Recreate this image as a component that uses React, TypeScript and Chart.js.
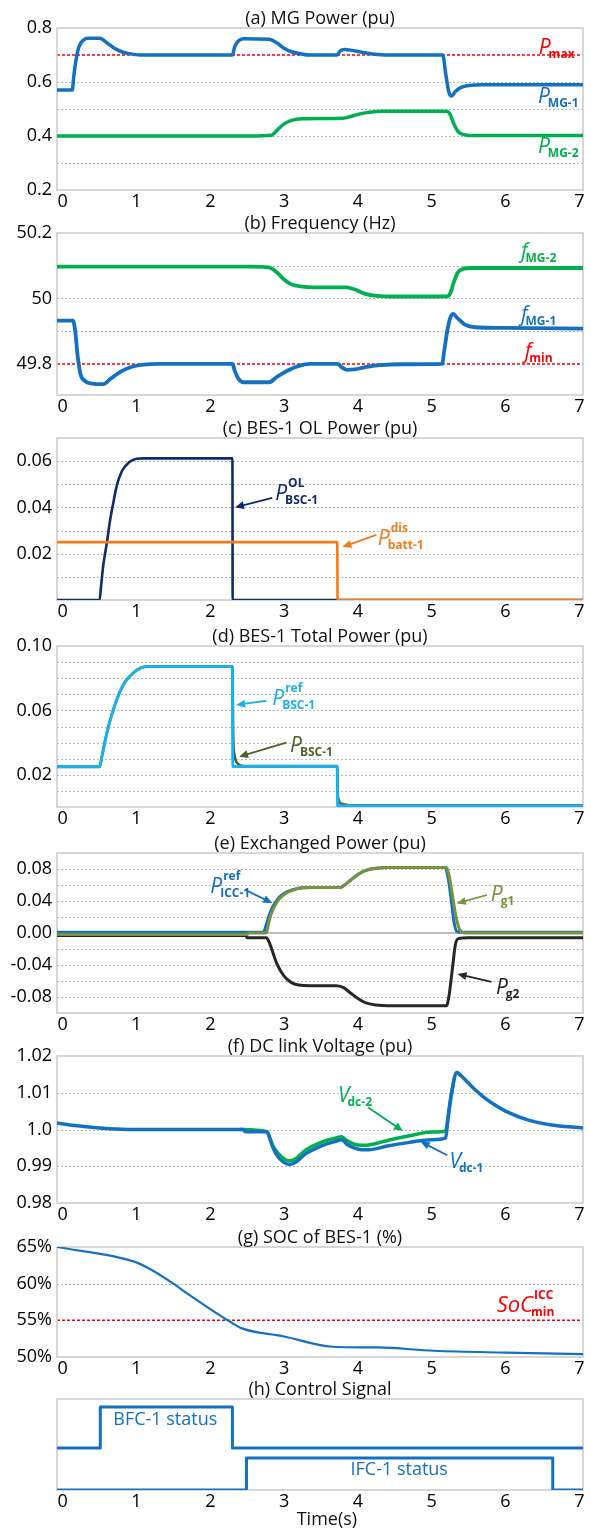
import React, { useEffect, useRef } from 'react';
import { Chart, registerables } from 'chart.js';

Chart.register(...registerables);

const FONT = '"Open Sans", "DejaVu Sans", sans-serif';

const BLUE = '#1471c2';
const GREEN = '#00b050';
const RED = '#ff0000';
const NAVY = '#0f2b6b';
const ORANGE = '#f07d1a';
const CYAN = '#1db1ec';
const DARK_OLIVE = '#4f6228';
const OLIVE = '#77933c';
const BLACK = '#262626';

const T_MIN = -0.077;
const T_MAX = 7.05;
const timeTicks = [0, 1, 2, 3, 4, 5, 6, 7];

// (a) MG power
const tA1 = [-0.077, 0.13, 0.15, 0.18, 0.22, 0.28, 0.35, 0.5, 0.6, 0.7, 0.8, 0.9, 1.05, 2.3, 2.33, 2.38, 2.45, 2.8, 2.9, 3.0, 3.1, 3.25, 3.35, 3.72, 3.76, 3.82, 3.9, 4.05, 4.2, 4.4, 5.15, 5.19, 5.23, 5.27, 5.32, 5.4, 5.5, 5.7, 7.05];
const pMG1 = [0.57, 0.57, 0.62, 0.68, 0.73, 0.755, 0.762, 0.762, 0.745, 0.725, 0.712, 0.705, 0.70, 0.70, 0.73, 0.752, 0.76, 0.758, 0.745, 0.725, 0.712, 0.703, 0.70, 0.70, 0.715, 0.72, 0.718, 0.71, 0.704, 0.70, 0.70, 0.63, 0.565, 0.548, 0.565, 0.58, 0.587, 0.59, 0.59];
const tA2 = [-0.077, 2.55, 2.83, 2.9, 3.0, 3.1, 3.25, 3.8, 3.9, 4.0, 4.15, 4.35, 5.2, 5.25, 5.3, 5.36, 5.45, 5.6, 7.05];
const pMG2 = [0.40, 0.40, 0.403, 0.42, 0.445, 0.458, 0.464, 0.466, 0.472, 0.48, 0.488, 0.492, 0.492, 0.48, 0.445, 0.415, 0.404, 0.402, 0.402];
const aTicks = [0.2, 0.4, 0.6, 0.8];
const aTickLabels = ['0.2', '0.4', '0.6', '0.8'];
const aGrid = [0.3, 0.4, 0.5, 0.6];
const aPmax = [0.7];

// (b) Frequency
const tB1 = [-0.077, 0.14, 0.17, 0.2, 0.24, 0.3, 0.4, 0.55, 0.65, 0.8, 0.95, 1.1, 1.3, 2.3, 2.33, 2.38, 2.45, 2.8, 2.9, 3.05, 3.2, 3.35, 3.73, 3.78, 3.85, 3.95, 4.1, 4.3, 4.6, 5.14, 5.17, 5.21, 5.25, 5.29, 5.35, 5.45, 5.6, 6.0, 7.05];
const fMG1 = [49.932, 49.932, 49.9, 49.83, 49.77, 49.748, 49.74, 49.738, 49.755, 49.778, 49.792, 49.798, 49.8, 49.8, 49.78, 49.755, 49.744, 49.744, 49.76, 49.78, 49.794, 49.8, 49.8, 49.79, 49.782, 49.783, 49.79, 49.796, 49.799, 49.8, 49.84, 49.9, 49.94, 49.953, 49.94, 49.92, 49.912, 49.91, 49.908];
const tB2 = [-0.077, 2.55, 2.8, 2.9, 3.0, 3.1, 3.25, 3.4, 3.85, 3.95, 4.1, 4.25, 4.5, 5.2, 5.25, 5.3, 5.35, 5.42, 5.55, 7.05];
const fMG2 = [50.097, 50.097, 50.094, 50.08, 50.058, 50.043, 50.036, 50.034, 50.034, 50.028, 50.014, 50.008, 50.006, 50.006, 50.015, 50.05, 50.078, 50.09, 50.093, 50.093];
const bTicks = [49.8, 50, 50.2];
const bTickLabels = ['49.8', '50', '50.2'];
const bGrid = [49.9, 50, 50.1];
const bFmin = [49.8];

// (c) BES-1 OL power
const tC1 = [-0.077, 0.5, 0.52, 0.55, 0.6, 0.64, 0.68, 0.73, 0.8, 0.9, 1.0, 1.1, 2.3, 2.303, 7.05];
const pBscOL = [0, 0, 0.006, 0.015, 0.025, 0.034, 0.041, 0.049, 0.0555, 0.0595, 0.061, 0.0612, 0.0612, 0, 0];
const tC2 = [-0.077, 3.72, 3.725, 7.05];
const pBattDis = [0.025, 0.025, 0, 0];
const cTicks = [0.02, 0.04, 0.06];
const cTickLabels = ['0.02', '0.04', '0.06'];
const cGrid = [0.01, 0.02, 0.03, 0.04, 0.05, 0.06];

// (d) BES-1 total power
const tD1 = [-0.077, 0.5, 0.53, 0.57, 0.62, 0.67, 0.72, 0.78, 0.85, 0.95, 1.05, 1.15, 2.3, 2.305, 3.72, 3.725, 7.05];
const pBscRef = [0.0252, 0.0252, 0.031, 0.04, 0.05, 0.058, 0.065, 0.072, 0.078, 0.083, 0.0862, 0.0872, 0.0872, 0.0252, 0.0252, 0.0008, 0.0008];
const tD2 = [-0.077, 0.5, 0.53, 0.57, 0.62, 0.67, 0.72, 0.78, 0.85, 0.95, 1.05, 1.15, 2.3, 2.31, 2.33, 2.37, 2.45, 3.72, 3.73, 3.78, 3.9, 7.05];
const pBsc = [0.0248, 0.0248, 0.031, 0.04, 0.05, 0.058, 0.065, 0.072, 0.078, 0.083, 0.0862, 0.0872, 0.0872, 0.045, 0.032, 0.027, 0.0255, 0.0255, 0.006, 0.002, 0.001, 0.001];
const dTicks = [0.02, 0.06, 0.1];
const dTickLabels = ['0.02', '0.06', '0.10'];
const dGrid = [0.01, 0.02, 0.03, 0.04, 0.05, 0.06, 0.07, 0.08, 0.09];

// (e) Exchanged power
const tE1 = [-0.077, 2.72, 2.75, 2.79, 2.83, 2.88, 2.95, 3.05, 3.2, 3.35, 3.76, 3.82, 3.9, 4.0, 4.1, 4.25, 4.4, 5.18, 5.22, 5.26, 5.3, 5.34, 5.4, 7.05];
const pIccRef = [0.001, 0.001, 0.008, 0.02, 0.03, 0.038, 0.046, 0.052, 0.056, 0.057, 0.057, 0.06, 0.066, 0.073, 0.078, 0.081, 0.082, 0.082, 0.07, 0.045, 0.015, 0.002, 0.001, 0.001];
const tE2 = [-0.077, 2.5, 2.52, 2.76, 2.79, 2.83, 2.88, 2.95, 3.05, 3.2, 3.35, 3.76, 3.82, 3.9, 4.0, 4.1, 4.25, 4.4, 5.2, 5.24, 5.28, 5.33, 5.38, 5.45, 7.05];
const pG1 = [-0.002, -0.002, 0, 0, 0.012, 0.025, 0.035, 0.044, 0.051, 0.056, 0.057, 0.057, 0.06, 0.066, 0.073, 0.078, 0.081, 0.082, 0.082, 0.07, 0.048, 0.02, 0.004, 0, 0];
const tE3 = [-0.077, 2.48, 2.5, 2.76, 2.8, 2.85, 2.9, 3.0, 3.1, 3.2, 3.35, 3.7, 3.8, 3.9, 4.0, 4.1, 4.25, 4.4, 5.2, 5.24, 5.28, 5.32, 5.36, 5.5, 7.05];
const pG2 = [-0.003, -0.003, -0.006, -0.006, -0.012, -0.025, -0.038, -0.054, -0.062, -0.065, -0.066, -0.066, -0.068, -0.075, -0.082, -0.087, -0.09, -0.091, -0.091, -0.075, -0.045, -0.015, -0.007, -0.006, -0.006];
const eTicks = [-0.08, -0.04, 0, 0.04, 0.08];
const eTickLabels = ['-0.08', '-0.04', '0.00', '0.04', '0.08'];
const eGrid = [-0.08, -0.06, -0.04, -0.02, 0.02, 0.04, 0.06, 0.08];

// (f) DC link voltage
const tF1 = [-0.077, 0.2, 0.5, 0.8, 1.2, 2.45, 2.47, 2.77, 2.8, 2.85, 2.92, 3.0, 3.07, 3.15, 3.3, 3.5, 3.7, 3.78, 3.85, 3.95, 4.05, 4.15, 4.4, 4.7, 5.0, 5.19, 5.22, 5.27, 5.34, 5.4, 5.5, 5.6, 5.7, 5.8, 6.0, 6.3, 6.6, 7.05];
const vDc1 = [1.0018, 1.001, 1.0004, 1.0001, 1.0, 1.0, 0.9994, 0.9994, 0.998, 0.995, 0.9925, 0.991, 0.9905, 0.991, 0.9935, 0.9955, 0.9968, 0.9972, 0.996, 0.995, 0.9945, 0.9945, 0.9955, 0.9965, 0.9972, 0.9977, 1.003, 1.01, 1.0155, 1.0146, 1.0126, 1.0106, 1.0089, 1.0074, 1.005, 1.0026, 1.0013, 1.0004];
const tF2 = [2.4, 2.77, 2.8, 2.85, 2.92, 3.0, 3.07, 3.15, 3.3, 3.5, 3.7, 3.78, 3.85, 3.95, 4.05, 4.15, 4.4, 4.7, 5.0, 5.19, 5.22, 5.27, 5.34, 5.4];
const vDc2 = [1.0, 0.9994, 0.998, 0.9955, 0.9935, 0.992, 0.9915, 0.992, 0.9945, 0.9965, 0.9977, 0.998, 0.997, 0.996, 0.9957, 0.9958, 0.997, 0.9983, 0.9993, 0.9996, 1.003, 1.01, 1.0155, 1.0146];
const fTicks = [0.98, 0.99, 1.0, 1.01, 1.02];
const fTickLabels = ['0.98', '0.99', '1.0', '1.01', '1.02'];
const fGrid = [0.99, 1.0, 1.01];

// (g) SOC
const tG = [-0.077, 0.97, 1.2, 1.5, 1.71, 2.02, 2.27, 2.43, 3.0, 3.65, 4.27, 5.03, 6.0, 7.05];
const soc = [65.0, 63.0, 61.9, 60.0, 58.5, 56.4, 54.8, 53.9, 52.8, 51.4, 51.3, 50.85, 50.6, 50.4];
const gTicks = [50, 55, 60, 65];
const gTickLabels = ['50%', '55%', '60%', '65%'];
const gGrid = [60];
const gSocMin = [55];

// (h) Control signal
const tH1 = [-0.077, 0.51, 0.51, 2.3, 2.3, 7.05];
const bfcStatus = [1.04, 1.04, 2.05, 2.05, 1.04, 1.04];
const tH2 = [-0.077, 2.49, 2.49, 6.64, 6.64, 7.05];
const ifcStatus = [0, 0, 0.79, 0.79, 0, 0];

type Series = { t: number[]; v: number[]; color: string; width: number; smooth: boolean };
type Sym = { t: number; v: number; main: string; sub?: string; sup?: string; color: string; size?: number };
type Arrow = { t1: number; v1: number; t2: number; v2: number; color: string };
type Txt = { t: number; v: number; text: string; color: string; size: number };
type Panel = {
  title: string; top: number; bottom: number; min: number; max: number;
  ticks: number[]; tickLabels: string[];
  grid: number[]; redLines: number[]; zeroLine?: boolean;
  series: Series[]; syms: Sym[]; arrows: Arrow[]; texts: Txt[];
  xTitle?: string;
};

// series are listed bottom-most first (drawing order)
const panels: Panel[] = [
  {
    title: '(a) MG Power (pu)', top: 28, bottom: 190, min: 0.2, max: 0.8,
    ticks: aTicks, tickLabels: aTickLabels, grid: aGrid, redLines: aPmax,
    series: [
      { t: tA1, v: pMG1, color: BLUE, width: 3.5, smooth: true },
      { t: tA2, v: pMG2, color: GREEN, width: 3.5, smooth: true },
    ],
    syms: [
      { t: 6.45, v: 0.704, main: 'P', sub: 'max', color: RED },
      { t: 6.44, v: 0.522, main: 'P', sub: 'MG-1', color: BLUE },
      { t: 6.44, v: 0.337, main: 'P', sub: 'MG-2', color: GREEN },
    ],
    arrows: [], texts: [],
  },
  {
    title: '(b) Frequency (Hz)', top: 233, bottom: 395, min: 49.705, max: 50.2,
    ticks: bTicks, tickLabels: bTickLabels, grid: bGrid, redLines: bFmin,
    series: [
      { t: tB2, v: fMG2, color: GREEN, width: 3.8, smooth: true },
      { t: tB1, v: fMG1, color: BLUE, width: 3.8, smooth: true },
    ],
    syms: [
      { t: 6.21, v: 50.124, main: 'f', sub: 'MG-2', color: GREEN },
      { t: 6.21, v: 49.93, main: 'f', sub: 'MG-1', color: BLUE },
      { t: 6.26, v: 49.818, main: 'f', sub: 'min', color: RED },
    ],
    arrows: [], texts: [],
  },
  {
    title: '(c) BES-1 OL Power (pu)', top: 438, bottom: 600, min: 0, max: 0.07,
    ticks: cTicks, tickLabels: cTickLabels, grid: cGrid, redLines: [],
    series: [
      { t: tC1, v: pBscOL, color: NAVY, width: 2.6, smooth: true },
      { t: tC2, v: pBattDis, color: ORANGE, width: 2.6, smooth: true },
    ],
    syms: [
      { t: 2.88, v: 0.0432, main: 'P', sub: 'BSC-1', sup: 'OL', color: NAVY },
      { t: 4.27, v: 0.0238, main: 'P', sub: 'batt-1', sup: 'dis', color: ORANGE },
    ],
    arrows: [
      { t1: 2.84, v1: 0.0441, t2: 2.335, v2: 0.040, color: NAVY },
      { t1: 4.25, v1: 0.0281, t2: 3.79, v2: 0.0229, color: ORANGE },
    ],
    texts: [],
  },
  {
    title: '(d) BES-1 Total Power (pu)', top: 646, bottom: 807, min: 0, max: 0.1,
    ticks: dTicks, tickLabels: dTickLabels, grid: dGrid, redLines: [],
    series: [
      { t: tD2, v: pBsc, color: DARK_OLIVE, width: 2.6, smooth: true },
      { t: tD1, v: pBscRef, color: CYAN, width: 3, smooth: true },
    ],
    syms: [
      { t: 2.84, v: 0.0634, main: 'P', sub: 'BSC-1', sup: 'ref', color: CYAN },
      { t: 3.08, v: 0.0344, main: 'P', sub: 'BSC-1', color: DARK_OLIVE },
    ],
    arrows: [
      { t1: 2.76, v1: 0.066, t2: 2.35, v2: 0.0634, color: CYAN },
      { t1: 3.03, v1: 0.040, t2: 2.39, v2: 0.0312, color: DARK_OLIVE },
    ],
    texts: [],
  },
  {
    title: '(e) Exchanged Power (pu)', top: 853, bottom: 1013, min: -0.1, max: 0.1,
    ticks: eTicks, tickLabels: eTickLabels, grid: eGrid, redLines: [], zeroLine: true,
    series: [
      { t: tE3, v: pG2, color: BLACK, width: 3, smooth: true },
      { t: tE1, v: pIccRef, color: BLUE, width: 3, smooth: true },
      { t: tE2, v: pG1, color: OLIVE, width: 3, smooth: true },
    ],
    syms: [
      { t: 2.0, v: 0.05, main: 'P', sub: 'ICC-1', sup: 'ref', color: BLUE },
      { t: 5.8, v: 0.0404, main: 'P', sub: 'g1', color: OLIVE },
      { t: 5.87, v: -0.0767, main: 'P', sub: 'g2', color: BLACK },
    ],
    arrows: [
      { t1: 2.47, v1: 0.054, t2: 2.84, v2: 0.0375, color: BLUE },
      { t1: 5.75, v1: 0.0475, t2: 5.34, v2: 0.037, color: OLIVE },
      { t1: 5.81, v1: -0.061, t2: 5.35, v2: -0.0513, color: BLACK },
    ],
    texts: [],
  },
  {
    title: '(f) DC link Voltage (pu)', top: 1056, bottom: 1203, min: 0.98, max: 1.02,
    ticks: fTicks, tickLabels: fTickLabels, grid: fGrid, redLines: [],
    series: [
      { t: tF2, v: vDc2, color: GREEN, width: 3.5, smooth: true },
      { t: tF1, v: vDc1, color: BLUE, width: 3.5, smooth: true },
    ],
    syms: [
      { t: 3.73, v: 1.0076, main: 'V', sub: 'dc-2', color: GREEN },
      { t: 5.24, v: 0.9894, main: 'V', sub: 'dc-1', color: BLUE },
    ],
    arrows: [
      { t1: 4.14, v1: 1.006, t2: 4.61, v2: 0.9996, color: GREEN },
      { t1: 5.21, v1: 0.993, t2: 4.85, v2: 0.9967, color: BLUE },
    ],
    texts: [],
  },
  {
    title: '(g) SOC of BES-1 (%)', top: 1247, bottom: 1357, min: 50, max: 65,
    ticks: gTicks, tickLabels: gTickLabels, grid: gGrid, redLines: gSocMin,
    series: [{ t: tG, v: soc, color: BLUE, width: 2.2, smooth: true }],
    syms: [{ t: 5.88, v: 56.1, main: 'SoC', sub: 'min', sup: 'ICC', color: RED, size: 22 }],
    arrows: [], texts: [],
  },
  {
    title: '(h) Control Signal', top: 1399, bottom: 1490, min: 0, max: 2.25,
    ticks: [], tickLabels: [], grid: [], redLines: [],
    series: [
      { t: tH1, v: bfcStatus, color: BLUE, width: 3, smooth: false },
      { t: tH2, v: ifcStatus, color: BLUE, width: 3, smooth: false },
    ],
    syms: [], arrows: [],
    texts: [
      { t: 1.39, v: 1.73, text: 'BFC-1 status', color: BLUE, size: 18 },
      { t: 4.56, v: 0.49, text: 'IFC-1 status', color: BLUE, size: 18 },
    ],
    xTitle: 'Time(s)',
  },
];

const PAD_TOP = 24;
const X_AXIS_H = 24;
const Y_AXIS_W = 57;
const PAD_RIGHT = 8;

function hline(ctx: CanvasRenderingContext2D, x1: number, x2: number, y: number) {
  ctx.beginPath();
  ctx.moveTo(x1, y);
  ctx.lineTo(x2, y);
  ctx.stroke();
}

function makeDeco(panel: Panel) {
  return {
    id: 'deco',
    beforeDatasetsDraw(chart: any) {
      const { ctx, chartArea: a, scales } = chart;
      const ys = scales.y;
      ctx.save();
      ctx.lineWidth = 1;
      ctx.strokeStyle = '#b8b8b8';
      ctx.setLineDash([2, 2]);
      for (const g of panel.grid) hline(ctx, a.left, a.right, Math.round(ys.getPixelForValue(g)) + 0.5);
      ctx.setLineDash([]);
      if (panel.zeroLine) {
        ctx.strokeStyle = '#a6a6a6';
        ctx.lineWidth = 1.5;
        hline(ctx, a.left, a.right, ys.getPixelForValue(0));
      }
      ctx.strokeStyle = RED;
      ctx.lineWidth = 1.5;
      ctx.setLineDash([3, 2]);
      for (const r of panel.redLines) hline(ctx, a.left, a.right, ys.getPixelForValue(r));
      ctx.setLineDash([]);
      ctx.strokeStyle = '#cacaca';
      ctx.lineWidth = 1.5;
      ctx.strokeRect(a.left, a.top, a.right - a.left, a.bottom - a.top);
      ctx.restore();
    },
    afterDatasetsDraw(chart: any) {
      const { ctx, chartArea: a, scales } = chart;
      const xs = scales.x;
      const ys = scales.y;
      ctx.save();
      // title
      ctx.fillStyle = '#111';
      ctx.font = `18px ${FONT}`;
      ctx.textAlign = 'center';
      ctx.textBaseline = 'middle';
      ctx.fillText(panel.title, (a.left + a.right) / 2, a.top - 9);
      // arrows
      for (const ar of panel.arrows) {
        const x1 = xs.getPixelForValue(ar.t1);
        const y1 = ys.getPixelForValue(ar.v1);
        const x2 = xs.getPixelForValue(ar.t2);
        const y2 = ys.getPixelForValue(ar.v2);
        const ang = Math.atan2(y2 - y1, x2 - x1);
        const hl = 9;
        const hw = 4;
        ctx.strokeStyle = ar.color;
        ctx.fillStyle = ar.color;
        ctx.lineWidth = 1.8;
        ctx.beginPath();
        ctx.moveTo(x1, y1);
        ctx.lineTo(x2 - Math.cos(ang) * hl * 0.8, y2 - Math.sin(ang) * hl * 0.8);
        ctx.stroke();
        ctx.beginPath();
        ctx.moveTo(x2, y2);
        ctx.lineTo(x2 - Math.cos(ang) * hl + Math.sin(ang) * hw, y2 - Math.sin(ang) * hl - Math.cos(ang) * hw);
        ctx.lineTo(x2 - Math.cos(ang) * hl - Math.sin(ang) * hw, y2 - Math.sin(ang) * hl + Math.cos(ang) * hw);
        ctx.closePath();
        ctx.fill();
      }
      // symbol labels
      for (const s of panel.syms) {
        const x = xs.getPixelForValue(s.t);
        const base = ys.getPixelForValue(s.v);
        const size = s.size ?? 21;
        ctx.fillStyle = s.color;
        ctx.textAlign = 'left';
        ctx.textBaseline = 'alphabetic';
        ctx.font = `italic ${size}px ${FONT}`;
        ctx.fillText(s.main, x, base);
        const w = ctx.measureText(s.main).width;
        ctx.font = `bold 12px ${FONT}`;
        if (s.sub) ctx.fillText(s.sub, x + w - 2, base + 4);
        if (s.sup) ctx.fillText(s.sup, x + w + 1, base - 13);
      }
      // plain texts
      for (const t of panel.texts) {
        ctx.fillStyle = t.color;
        ctx.font = `${t.size}px ${FONT}`;
        ctx.textAlign = 'center';
        ctx.textBaseline = 'middle';
        ctx.fillText(t.text, xs.getPixelForValue(t.t), ys.getPixelForValue(t.v));
      }
      if (panel.xTitle) {
        ctx.fillStyle = '#111';
        ctx.font = `18px ${FONT}`;
        ctx.textAlign = 'center';
        ctx.textBaseline = 'middle';
        ctx.fillText(panel.xTitle, xs.getPixelForValue(3.58), a.bottom + 30);
      }
      ctx.restore();
    },
  };
}

function buildConfig(panel: Panel, padBottom: number) {
  const n = panel.series.length;
  return {
    type: 'line',
    data: {
      datasets: panel.series.map((s, idx) => ({
        data: s.t.map((t, i) => ({ x: t, y: s.v[i] })),
        borderColor: s.color,
        borderWidth: s.width,
        pointRadius: 0,
        fill: false,
        tension: 0,
        order: n - idx,
        cubicInterpolationMode: s.smooth ? 'monotone' : 'default',
        borderJoinStyle: 'round',
      })),
    },
    options: {
      responsive: false,
      maintainAspectRatio: false,
      animation: false,
      devicePixelRatio: 1,
      events: [],
      layout: { padding: { top: PAD_TOP, bottom: padBottom, left: 0, right: PAD_RIGHT } },
      plugins: { legend: { display: false }, tooltip: { enabled: false }, title: { display: false } },
      scales: {
        x: {
          type: 'linear',
          min: T_MIN,
          max: T_MAX,
          grid: { display: false, drawTicks: false },
          border: { display: false },
          ticks: {
            font: { family: FONT, size: 18 },
            color: '#000',
            padding: 1,
            maxRotation: 0,
            autoSkip: false,
            callback: (v: number) => String(v),
          },
          afterBuildTicks: (sc: any) => {
            sc.ticks = timeTicks.map((v) => ({ value: v }));
          },
          afterFit: (sc: any) => {
            sc.height = X_AXIS_H;
          },
        },
        y: {
          type: 'linear',
          min: panel.min,
          max: panel.max,
          grid: { display: false, drawTicks: false },
          border: { display: false },
          ticks: {
            font: { family: FONT, size: 18 },
            color: '#000',
            padding: 5,
            autoSkip: false,
            callback: (_v: number, i: number) => panel.tickLabels[i] ?? '',
          },
          afterBuildTicks: (sc: any) => {
            sc.ticks = panel.ticks.map((v) => ({ value: v }));
          },
          afterFit: (sc: any) => {
            sc.width = Y_AXIS_W;
          },
        },
      },
    },
    plugins: [makeDeco(panel)],
  };
}

function PanelChart({ panel }: { panel: Panel }) {
  const ref = useRef<HTMLCanvasElement>(null);
  const ct = panel.top - PAD_TOP;
  const padBottom = panel.xTitle ? 26 : 2;
  const ch = panel.bottom - ct + X_AXIS_H + padBottom;
  useEffect(() => {
    if (!ref.current) return;
    const chart = new Chart(ref.current, buildConfig(panel, padBottom) as any);
    return () => chart.destroy();
  }, []);
  return (
    <canvas
      ref={ref}
      width={591}
      height={ch}
      style={{ position: 'absolute', left: 0, top: ct, width: 591, height: ch, display: 'block' }}
    />
  );
}

export default function App() {
  return (
    <div style={{ position: 'absolute', left: 0, top: 0, width: 591, height: 1529, overflow: 'hidden', background: '#fff' }}>
      {panels.map((p) => (
        <PanelChart key={p.title} panel={p} />
      ))}
    </div>
  );
}
